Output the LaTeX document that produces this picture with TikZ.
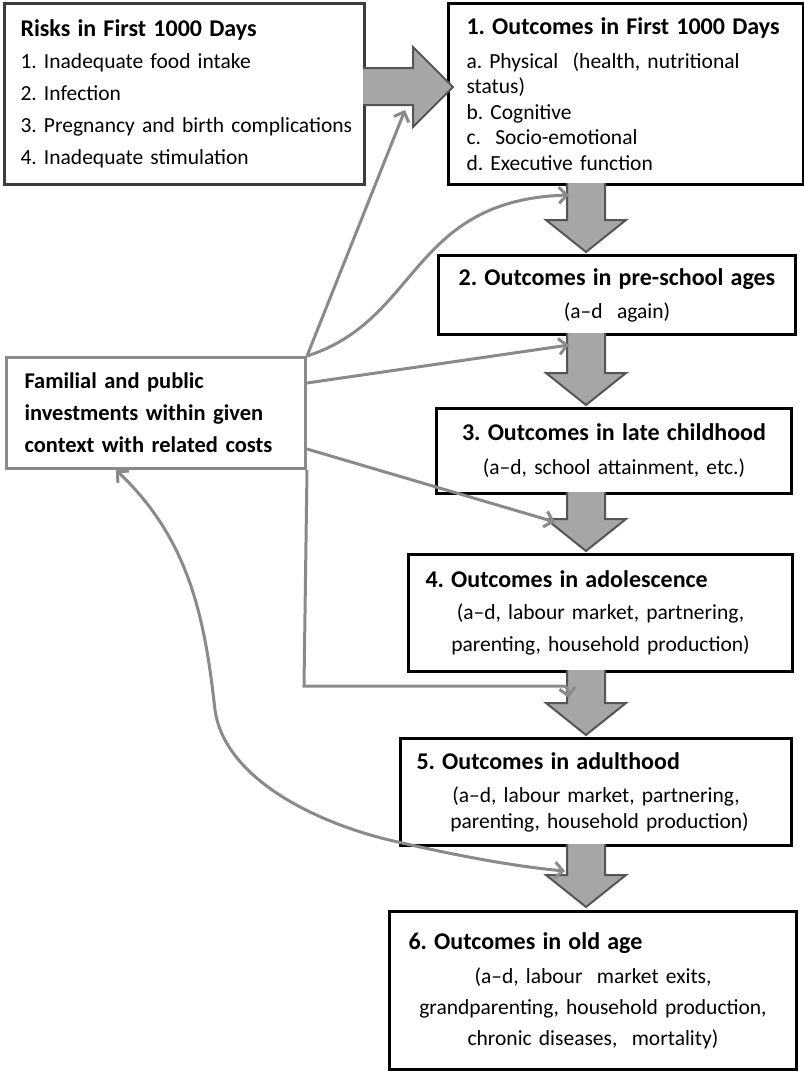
\documentclass[tikz,border=0pt]{standalone}
\usepackage{fontspec}
\setmainfont{Carlito}
\frenchspacing
\usetikzlibrary{arrows.meta}

\definecolor{linkgray}{HTML}{8A8A8A}
\definecolor{arrowfill}{HTML}{A6A6A6}
\definecolor{arrowedge}{HTML}{555555}
\definecolor{riskedge}{HTML}{3C3C3C}

\newcommand{\boxtitle}[1]{{\fontsize{24}{33}\selectfont\bfseries #1}}

\tikzset{
    stagebox/.style={draw=black, line width=3pt, fill=white, anchor=north west,
        inner ysep=0pt, font=\fontsize{21.5}{33}\selectfont},
    bigarrow/.style={draw=arrowedge, fill=arrowfill, line width=2pt},
    link/.style={draw=linkgray, line width=3pt},
}

\begin{document}
\begin{tikzpicture}[x=1pt, y=-1pt, >={Straight Barb[length=8pt,width=16pt]}]
    \useasboundingbox (0,0) rectangle (804,1072);

    % Boxes
    \node[stagebox, draw=riskedge, minimum width=360pt, minimum height=181pt,
        inner xsep=16pt, text width=328pt, align=left,
        font=\fontsize{21.5}{32}\selectfont] (risk) at (3,2)
        {\boxtitle{Risks in First 1000 Days}\\
         1. Inadequate food intake\\
         2. Infection\\
         \mbox{3. Pregnancy and birth complications}\\
         4. Inadequate stimulation};
    \node[stagebox, minimum width=355pt, minimum height=181pt,
        inner xsep=18pt, text width=319pt, align=left,
        font=\fontsize{21.5}{25.5}\selectfont] (out1) at (447,2)
        {\mbox{\boxtitle{1. Outcomes in First 1000 Days}}\\[8pt]
         a. Physical\ \ (health, nutritional\\
         status)\\
         b. Cognitive\\
         c.\ \ Socio-emotional\\
         d. Executive function};
    \node[stagebox, minimum width=357pt, minimum height=79pt,
        text width=330pt, align=center] (out2) at (437,254)
        {\boxtitle{2. Outcomes in pre-school ages}\\
         (a--d\ \ again)};
    \node[stagebox, minimum width=355pt, minimum height=85pt,
        text width=330pt, align=center,
        font=\fontsize{21.5}{34}\selectfont] (out3) at (435,407)
        {\boxtitle{3. Outcomes in late childhood}\\
         (a--d, school attainment, etc.)};
    \node[stagebox, minimum width=384pt, minimum height=117pt,
        inner xsep=17pt, text width=350pt, align=center,
        font=\fontsize{21.5}{32}\selectfont] (out4) at (407,553)
        {\makebox[\linewidth][l]{\boxtitle{4. Outcomes in adolescence}}\\
         (a--d, labour market, partnering,\\
         parenting, household production)};
    \node[stagebox, minimum width=391pt, minimum height=107pt,
        inner xsep=16pt, text width=359pt, align=center,
        font=\fontsize{21.5}{26}\selectfont] (out5) at (399,737)
        {\makebox[\linewidth][l]{\boxtitle{5. Outcomes in adulthood}}\\[7pt]
         (a--d, labour market, partnering,\\
         \ parenting, household production)};
    \node[stagebox, minimum width=407pt, minimum height=158pt,
        inner xsep=8pt, text width=391pt, align=center,
        font=\fontsize{21.5}{31}\selectfont] (out6) at (388,910)
        {\makebox[\linewidth][l]{\hspace{11pt}\boxtitle{6. Outcomes in old age}}\\[3pt]
         (a--d, labour\ \ market exits,\\
         \mbox{grandparenting, household production,}\\
         chronic diseases,\ \ mortality)};
    \node[stagebox, draw=linkgray, minimum width=299pt, minimum height=111pt,
        inner xsep=18pt, text width=263pt, align=left,
        font=\bfseries\fontsize{22.5}{32}\selectfont] (fam) at (5,356)
        {Familial and public\\
         investments within given\\
         context with related costs};

    % Block arrows
    \draw[bigarrow] (363,68) -- (413,68) -- (413,47) -- (453,87) -- (413,127)
        -- (413,105) -- (363,105);
    \foreach \top/\bot in {183/252, 333/405, 492/551, 670/735, 844/907}
        \draw[bigarrow] (567,\top) -- (567,{\bot-32}) -- (546,{\bot-32})
            -- (586,\bot) -- (626,{\bot-32}) -- (605,{\bot-32}) -- (605,\top);

    % Ends of the investment links
    \coordinate (e1) at (405,110);
    \coordinate (e2) at (569,195);
    \coordinate (e3) at (569,345);
    \coordinate (e4) at (555,522);
    \coordinate (e5) at (569,698);
    \coordinate (e6) at (565,871);

    % Investment links
    \draw[link, ->] (fam.north east) -- (e1);
    \draw[link, ->] (fam.north east) .. controls (420,320) and (410,200) .. (e2);
    \draw[link, ->] ([yshift=30pt]fam.east) -- (e3);
    \draw[link, ->] ([yshift=-36pt]fam.east) -- (e4);
    \draw[link, ->] (fam.south east) -- (304,686) -- (559,686)
        .. controls (567,686) .. (e5);
    \draw[link, <->] ([xshift=-40pt]fam.south) .. controls (190,540) and (205,620)
        .. (215,710) .. controls (225,780) and (320,825) .. (398,842)
        .. controls (450,854) and (510,866) .. (e6);
\end{tikzpicture}
\end{document}
